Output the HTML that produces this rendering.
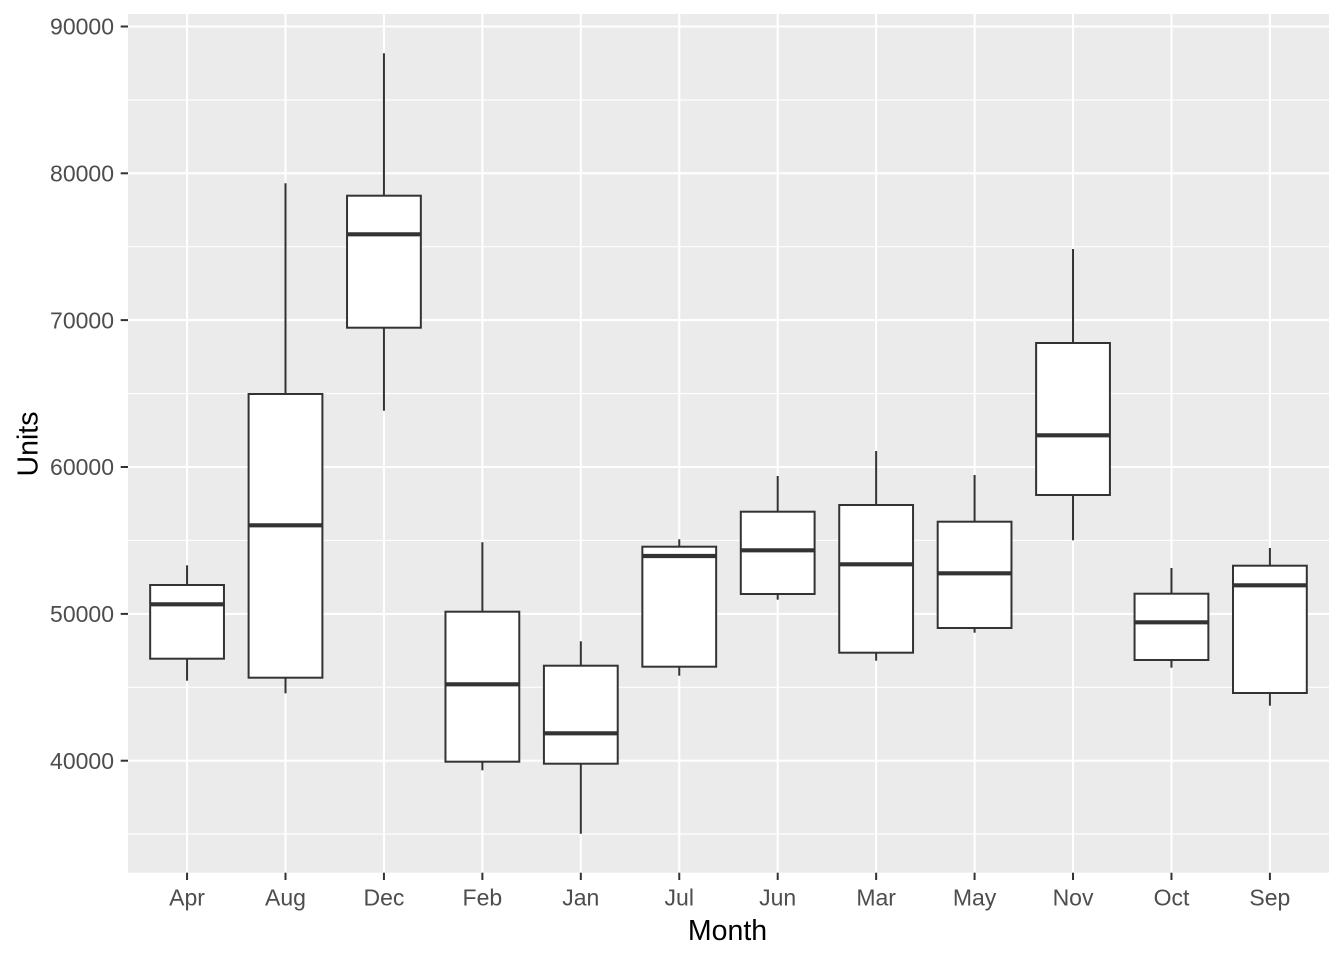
<!DOCTYPE html>
<html><head><meta charset="utf-8"><style>
html,body{margin:0;padding:0;background:#fff;}
svg{display:block;}
text{font-family:"Liberation Sans",Arial,sans-serif;}
</style></head><body>
<svg width="1344" height="960" viewBox="0 0 1344 960" xmlns="http://www.w3.org/2000/svg">
<rect x="0" y="0" width="1344" height="960" fill="#ffffff"/>
<rect x="128" y="14" width="1201" height="858.7" fill="#EBEBEB"/>
<g stroke="#ffffff" stroke-width="1.1" fill="none">
<line x1="128" x2="1329" y1="834.1" y2="834.1"/>
<line x1="128" x2="1329" y1="687.3" y2="687.3"/>
<line x1="128" x2="1329" y1="540.4" y2="540.4"/>
<line x1="128" x2="1329" y1="393.6" y2="393.6"/>
<line x1="128" x2="1329" y1="246.7" y2="246.7"/>
<line x1="128" x2="1329" y1="99.9" y2="99.9"/>
</g>
<g stroke="#ffffff" stroke-width="2.1" fill="none">
<line x1="128" x2="1329" y1="760.7" y2="760.7"/>
<line x1="128" x2="1329" y1="613.9" y2="613.9"/>
<line x1="128" x2="1329" y1="467" y2="467"/>
<line x1="128" x2="1329" y1="320.1" y2="320.1"/>
<line x1="128" x2="1329" y1="173.3" y2="173.3"/>
<line x1="128" x2="1329" y1="26.5" y2="26.5"/>
<line y1="14" y2="872.7" x1="187.06" x2="187.06"/>
<line y1="14" y2="872.7" x1="285.5" x2="285.5"/>
<line y1="14" y2="872.7" x1="383.94" x2="383.94"/>
<line y1="14" y2="872.7" x1="482.38" x2="482.38"/>
<line y1="14" y2="872.7" x1="580.82" x2="580.82"/>
<line y1="14" y2="872.7" x1="679.26" x2="679.26"/>
<line y1="14" y2="872.7" x1="777.7" x2="777.7"/>
<line y1="14" y2="872.7" x1="876.14" x2="876.14"/>
<line y1="14" y2="872.7" x1="974.58" x2="974.58"/>
<line y1="14" y2="872.7" x1="1073.02" x2="1073.02"/>
<line y1="14" y2="872.7" x1="1171.46" x2="1171.46"/>
<line y1="14" y2="872.7" x1="1269.9" x2="1269.9"/>
</g>

<g stroke="#333333" stroke-width="2" fill="#ffffff">
<!-- Apr -->
<line x1="187.06" x2="187.06" y1="565.3" y2="585"/><line x1="187.06" x2="187.06" y1="658.7" y2="680.7"/>
<rect x="150.16" y="585" width="73.8" height="73.7"/>
<line x1="150.16" x2="223.96" y1="604.3" y2="604.3" stroke-width="4.2"/>
<!-- Aug -->
<line x1="285.5" x2="285.5" y1="183.3" y2="394"/><line x1="285.5" x2="285.5" y1="677.7" y2="693.3"/>
<rect x="248.6" y="394" width="73.8" height="283.7"/>
<line x1="248.6" x2="322.4" y1="525.3" y2="525.3" stroke-width="4.2"/>
<!-- Dec -->
<line x1="383.94" x2="383.94" y1="53.3" y2="195.7"/><line x1="383.94" x2="383.94" y1="327.7" y2="410.7"/>
<rect x="347.04" y="195.7" width="73.8" height="132"/>
<line x1="347.04" x2="420.84" y1="234.3" y2="234.3" stroke-width="4.2"/>
<!-- Feb -->
<line x1="482.38" x2="482.38" y1="542.3" y2="611.7"/><line x1="482.38" x2="482.38" y1="761.7" y2="770.3"/>
<rect x="445.48" y="611.7" width="73.8" height="150"/>
<line x1="445.48" x2="519.28" y1="684.3" y2="684.3" stroke-width="4.2"/>
<!-- Jan -->
<line x1="580.82" x2="580.82" y1="641.3" y2="665.7"/><line x1="580.82" x2="580.82" y1="763.7" y2="833.7"/>
<rect x="543.92" y="665.7" width="73.8" height="98"/>
<line x1="543.92" x2="617.72" y1="733.3" y2="733.3" stroke-width="4.2"/>
<!-- Jul -->
<line x1="679.26" x2="679.26" y1="539.3" y2="546.7"/><line x1="679.26" x2="679.26" y1="666.7" y2="675.7"/>
<rect x="642.36" y="546.7" width="73.8" height="120"/>
<line x1="642.36" x2="716.16" y1="556" y2="556" stroke-width="4.2"/>
<!-- Jun -->
<line x1="777.7" x2="777.7" y1="476" y2="511.7"/><line x1="777.7" x2="777.7" y1="594" y2="599.7"/>
<rect x="740.8" y="511.7" width="73.8" height="82.3"/>
<line x1="740.8" x2="814.6" y1="550.3" y2="550.3" stroke-width="4.2"/>
<!-- Mar -->
<line x1="876.14" x2="876.14" y1="451" y2="505"/><line x1="876.14" x2="876.14" y1="652.7" y2="660.7"/>
<rect x="839.24" y="505" width="73.8" height="147.7"/>
<line x1="839.24" x2="913.04" y1="564.3" y2="564.3" stroke-width="4.2"/>
<!-- May -->
<line x1="974.58" x2="974.58" y1="475" y2="521.7"/><line x1="974.58" x2="974.58" y1="628" y2="632.7"/>
<rect x="937.68" y="521.7" width="73.8" height="106.3"/>
<line x1="937.68" x2="1011.48" y1="573.3" y2="573.3" stroke-width="4.2"/>
<!-- Nov -->
<line x1="1073.02" x2="1073.02" y1="249" y2="343"/><line x1="1073.02" x2="1073.02" y1="495" y2="540.3"/>
<rect x="1036.12" y="343" width="73.8" height="152"/>
<line x1="1036.12" x2="1109.92" y1="435.3" y2="435.3" stroke-width="4.2"/>
<!-- Oct -->
<line x1="1171.46" x2="1171.46" y1="568" y2="593.7"/><line x1="1171.46" x2="1171.46" y1="660" y2="667.7"/>
<rect x="1134.56" y="593.7" width="73.8" height="66.3"/>
<line x1="1134.56" x2="1208.36" y1="622.3" y2="622.3" stroke-width="4.2"/>
<!-- Sep -->
<line x1="1269.9" x2="1269.9" y1="548" y2="565.7"/><line x1="1269.9" x2="1269.9" y1="693" y2="705.7"/>
<rect x="1233" y="565.7" width="73.8" height="127.3"/>
<line x1="1233" x2="1306.8" y1="585.3" y2="585.3" stroke-width="4.2"/>
</g>

<!-- ticks -->
<g stroke="#333333" stroke-width="2">
<line x1="120.7" x2="128" y1="760.7" y2="760.7"/>
<line x1="120.7" x2="128" y1="613.9" y2="613.9"/>
<line x1="120.7" x2="128" y1="467" y2="467"/>
<line x1="120.7" x2="128" y1="320.1" y2="320.1"/>
<line x1="120.7" x2="128" y1="173.3" y2="173.3"/>
<line x1="120.7" x2="128" y1="26.5" y2="26.5"/>
<line y1="872.7" y2="880" x1="187.06" x2="187.06"/>
<line y1="872.7" y2="880" x1="285.5" x2="285.5"/>
<line y1="872.7" y2="880" x1="383.94" x2="383.94"/>
<line y1="872.7" y2="880" x1="482.38" x2="482.38"/>
<line y1="872.7" y2="880" x1="580.82" x2="580.82"/>
<line y1="872.7" y2="880" x1="679.26" x2="679.26"/>
<line y1="872.7" y2="880" x1="777.7" x2="777.7"/>
<line y1="872.7" y2="880" x1="876.14" x2="876.14"/>
<line y1="872.7" y2="880" x1="974.58" x2="974.58"/>
<line y1="872.7" y2="880" x1="1073.02" x2="1073.02"/>
<line y1="872.7" y2="880" x1="1171.46" x2="1171.46"/>
<line y1="872.7" y2="880" x1="1269.9" x2="1269.9"/>
</g>

<g fill="#4D4D4D" font-size="23" text-anchor="end">
<text x="114" y="768.9">40000</text>
<text x="114" y="622.1">50000</text>
<text x="114" y="475.2">60000</text>
<text x="114" y="328.3">70000</text>
<text x="114" y="181.5">80000</text>
<text x="114" y="34.7">90000</text>
</g>
<g fill="#4D4D4D" font-size="23" text-anchor="middle">
<text x="187.06" y="905.5">Apr</text>
<text x="285.5" y="905.5">Aug</text>
<text x="383.94" y="905.5">Dec</text>
<text x="482.38" y="905.5">Feb</text>
<text x="580.82" y="905.5">Jan</text>
<text x="679.26" y="905.5">Jul</text>
<text x="777.7" y="905.5">Jun</text>
<text x="876.14" y="905.5">Mar</text>
<text x="974.58" y="905.5">May</text>
<text x="1073.02" y="905.5">Nov</text>
<text x="1171.46" y="905.5">Oct</text>
<text x="1269.9" y="905.5">Sep</text>
</g>
<text x="727.5" y="940" font-size="28.5" fill="#000000" text-anchor="middle">Month</text>
<text transform="translate(37.5,444) rotate(-90)" x="0" y="0" font-size="28.5" fill="#000000" text-anchor="middle">Units</text>
</svg>
</body></html>
